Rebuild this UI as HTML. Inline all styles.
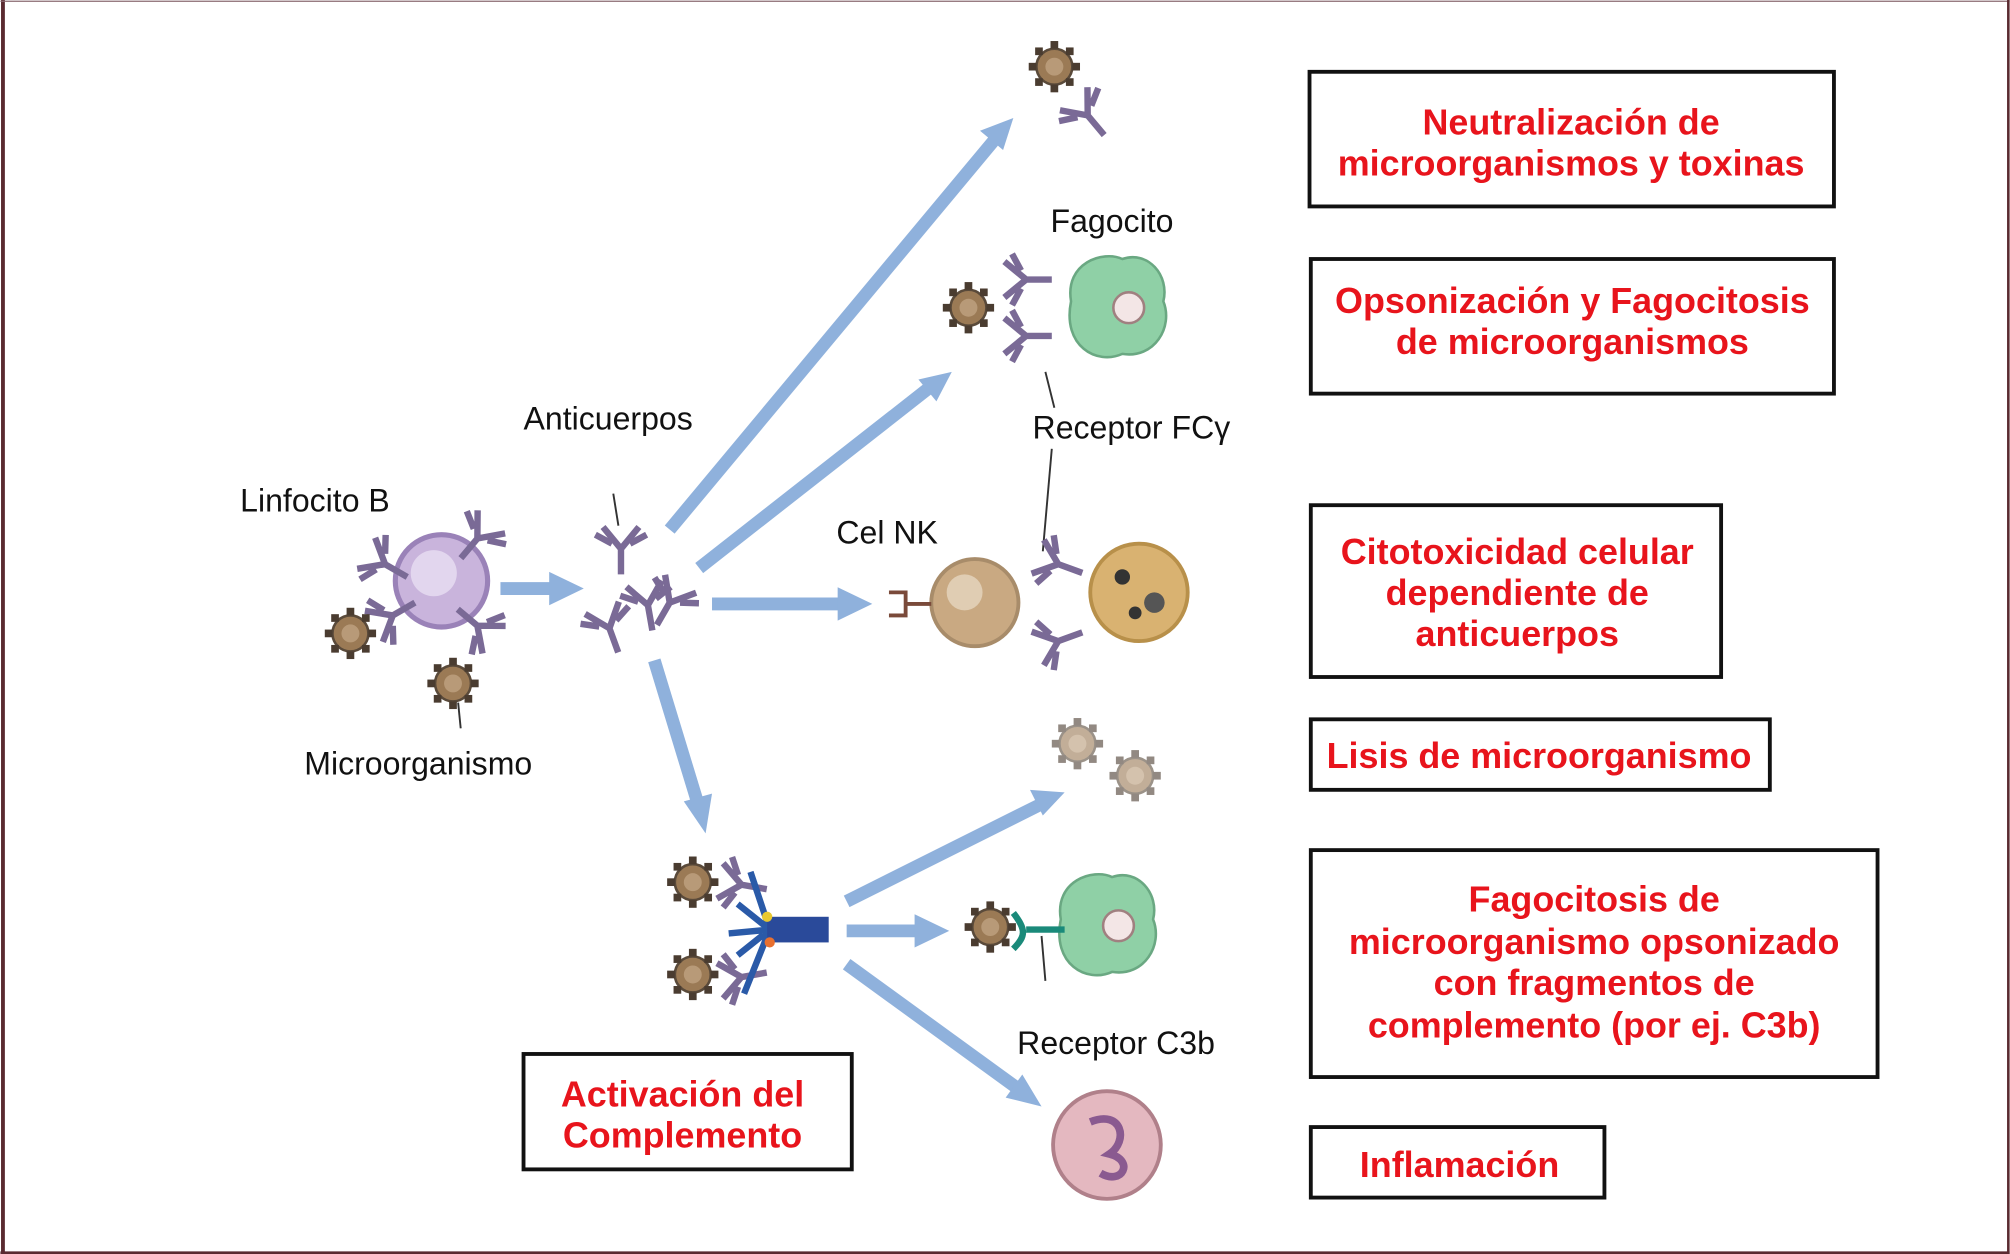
<!DOCTYPE html>
<html><head><meta charset="utf-8"><style>
html,body{margin:0;padding:0;background:#fff;}
svg{display:block;}
.lb{font-family:"Liberation Sans Narrow","Liberation Sans",sans-serif;font-size:25px;fill:#111;}
.rd{font-family:"Liberation Sans Narrow","Liberation Sans",sans-serif;font-size:28px;font-weight:bold;fill:#e8141c;text-anchor:middle;}
.bx{fill:#fff;stroke:#111;stroke-width:3;}
.ar{stroke:#8fb1dc;stroke-width:10;fill:none;}
.ah{fill:#8fb1dc;}
</style></head><body>
<svg width="2010" height="1254" viewBox="0 0 1567 978" xmlns="http://www.w3.org/2000/svg">
<defs>
<g id="mic"><circle r="14" fill="#9b7a55" stroke="#5a4a3a" stroke-width="2"/><circle r="7" fill="#b89a78"/>
<g fill="#4a3c30"><rect x="-3" y="-20" width="6" height="6"/><rect x="-3" y="14" width="6" height="6"/><rect x="-20" y="-3" width="6" height="6"/><rect x="14" y="-3" width="6" height="6"/><rect x="9" y="9" width="6" height="6"/><rect x="-15" y="-15" width="6" height="6"/><rect x="9" y="-15" width="6" height="6"/><rect x="-15" y="9" width="6" height="6"/></g></g>
<g id="ab" stroke="#7a6a96" stroke-width="5" fill="none"><path d="M0 20 L0 0 L-14 -17 M0 0 L14 -17 M-7 -4 L-20 -11 M7 -4 L20 -11"/></g>
<g id="mac"><path d="M-35 -5 C-40 -35 -10 -45 5 -38 C25 -45 42 -25 37 -5 C45 15 30 40 5 36 C-15 45 -42 30 -35 -5Z" fill="#8fd0a6" stroke="#6aa882" stroke-width="2"/><circle cx="10" cy="0" r="12" fill="#f3e6e6" stroke="#a08080" stroke-width="2"/></g>
</defs>
<rect x="0" y="0" width="1567" height="978" fill="#fff"/>
<line x1="2" y1="0" x2="2" y2="978" stroke="#5a2a30" stroke-width="3"/>
<line x1="0" y1="1" x2="1567" y2="1" stroke="#8a6a70" stroke-width="1"/>
<line x1="0" y1="977" x2="1567" y2="977" stroke="#5a2a30" stroke-width="2"/>
<line x1="1566" y1="0" x2="1566" y2="978" stroke="#5a2a30" stroke-width="2"/>

<g>
<line class="ar" x1="390" y1="459" x2="435" y2="459"/><polygon class="ah" points="455,459 428,446 428,472"/>
<line class="ar" x1="522" y1="413" x2="777" y2="107"/><polygon class="ah" points="790,92 764,102 782,117"/>
<line class="ar" x1="545" y1="443" x2="725" y2="302"/><polygon class="ah" points="742,290 716,296 730,313"/>
<line class="ar" x1="555" y1="471" x2="660" y2="471"/><polygon class="ah" points="680,471 653,458 653,484"/>
<line class="ar" x1="510" y1="515" x2="545" y2="630"/><polygon class="ah" points="550,650 533,625 555,619"/>
<line class="ar" x1="660" y1="703" x2="812" y2="627"/><polygon class="ah" points="830,618 803,616 813,636"/>
<line class="ar" x1="660" y1="726" x2="720" y2="726"/><polygon class="ah" points="740,726 713,713 713,739"/>
<line class="ar" x1="660" y1="752" x2="795" y2="850"/><polygon class="ah" points="812,863 797,838 784,856"/>
</g>

<circle cx="344" cy="453" r="36" fill="#c9b4dc" stroke="#9a82b8" stroke-width="4"/><circle cx="338" cy="447" r="18" fill="#e2d6ee"/>
<use href="#ab" transform="translate(300,440) rotate(-60)"/><use href="#ab" transform="translate(372,420) rotate(40)"/><use href="#ab" transform="translate(372,488) rotate(130)"/><use href="#ab" transform="translate(306,480) rotate(-120)"/>
<use href="#mic" transform="translate(273,494)"/><use href="#mic" transform="translate(353,533)"/>
<line x1="357" y1="548" x2="359" y2="568" stroke="#333" stroke-width="1.5"/>
<use href="#ab" transform="translate(484,428)"/><use href="#ab" transform="translate(522,470) rotate(30)"/><use href="#ab" transform="translate(475,490) rotate(-20)"/><use href="#ab" transform="translate(505,472) rotate(-10)"/>
<line x1="478" y1="385" x2="482" y2="410" stroke="#333" stroke-width="1.5"/>
<use href="#mic" transform="translate(822,52)"/><use href="#ab" transform="translate(848,90) rotate(-40)"/>
<use href="#mac" transform="translate(870,240)"/>
<use href="#mic" transform="translate(755,240)"/><use href="#ab" transform="translate(800,218) rotate(-90)"/><use href="#ab" transform="translate(800,262) rotate(-90)"/>
<line x1="815" y1="290" x2="822" y2="318" stroke="#333" stroke-width="1.5"/>
<line x1="820" y1="350" x2="813" y2="430" stroke="#333" stroke-width="1.5"/>
<circle cx="760" cy="470" r="34" fill="#c9a982" stroke="#a88c6a" stroke-width="3"/><circle cx="752" cy="462" r="14" fill="#e0cdb3"/>
<path d="M693 462 H706 V480 H693 M706 471 H726" stroke="#7a4a3a" stroke-width="3" fill="none"/>
<use href="#ab" transform="translate(825,440) rotate(-70)"/><use href="#ab" transform="translate(825,500) rotate(-110)"/>
<circle cx="888" cy="462" r="38" fill="#d9b271" stroke="#b8904a" stroke-width="3"/>
<circle cx="875" cy="450" r="6" fill="#333"/><circle cx="900" cy="470" r="8" fill="#555"/><circle cx="885" cy="478" r="5" fill="#333"/>
<use href="#mic" transform="translate(840,580)" opacity="0.6"/><use href="#mic" transform="translate(885,605)" opacity="0.6"/>
<use href="#mic" transform="translate(540,688)"/><use href="#mic" transform="translate(540,760)"/>
<use href="#ab" transform="translate(578,690) rotate(-80)"/><use href="#ab" transform="translate(578,762) rotate(-100)"/>
<path d="M600 725 L575 705 M600 725 L568 728 M600 725 L575 745 M600 725 L580 775 M600 725 L585 680" stroke="#2a5aa8" stroke-width="5" fill="none"/>
<rect x="598" y="715" width="48" height="20" fill="#2a4a9a"/><circle cx="598" cy="715" r="4" fill="#e8c830"/><circle cx="600" cy="735" r="4" fill="#e87030"/>
<use href="#mac" transform="translate(862,722)"/>
<use href="#mic" transform="translate(772,723)"/><path d="M790 712 C800 725 800 730 790 740 M800 725 H830" stroke="#1a8a7a" stroke-width="5" fill="none"/>
<line x1="812" y1="730" x2="815" y2="765" stroke="#333" stroke-width="1.5"/>
<circle cx="863" cy="893" r="42" fill="#e4b8c0" stroke="#b0808a" stroke-width="3"/><path d="M850 875 C875 865 880 890 865 900 C885 905 875 925 858 915" stroke="#8a5a90" stroke-width="6" fill="none"/>

<text class="lb" x="819" y="181">Fagocito</text>
<text class="lb" x="408" y="335">Anticuerpos</text>
<text class="lb" x="805" y="342">Receptor FCγ</text>
<text class="lb" x="187" y="399">Linfocito B</text>
<text class="lb" x="652" y="424">Cel NK</text>
<text class="lb" x="237" y="604">Microorganismo</text>
<text class="lb" x="793" y="822">Receptor C3b</text>

<rect class="bx" x="1021" y="56" width="409" height="105"/>
<text class="rd" x="1225" y="105">Neutralización de</text><text class="rd" x="1225" y="137">microorganismos y toxinas</text>
<rect class="bx" x="1022" y="202" width="408" height="105"/>
<text class="rd" x="1226" y="244">Opsonización y Fagocitosis</text><text class="rd" x="1226" y="276">de microorganismos</text>
<rect class="bx" x="1022" y="394" width="320" height="134"/>
<text class="rd" x="1183" y="440">Citotoxicidad celular</text><text class="rd" x="1183" y="472">dependiente de</text><text class="rd" x="1183" y="504">anticuerpos</text>
<rect class="bx" x="1022" y="561" width="358" height="55"/>
<text class="rd" x="1200" y="599">Lisis de microorganismo</text>
<rect class="bx" x="1022" y="663" width="442" height="177"/>
<text class="rd" x="1243" y="711">Fagocitosis de</text><text class="rd" x="1243" y="744">microorganismo opsonizado</text><text class="rd" x="1243" y="776">con fragmentos de</text><text class="rd" x="1243" y="809">complemento (por ej. C3b)</text>
<rect class="bx" x="1022" y="879" width="229" height="55"/>
<text class="rd" x="1138" y="918">Inflamación</text>
<rect class="bx" x="408" y="822" width="256" height="90"/>
<text class="rd" x="532" y="863">Activación del</text><text class="rd" x="532" y="895">Complemento</text>
</svg>
</body></html>
